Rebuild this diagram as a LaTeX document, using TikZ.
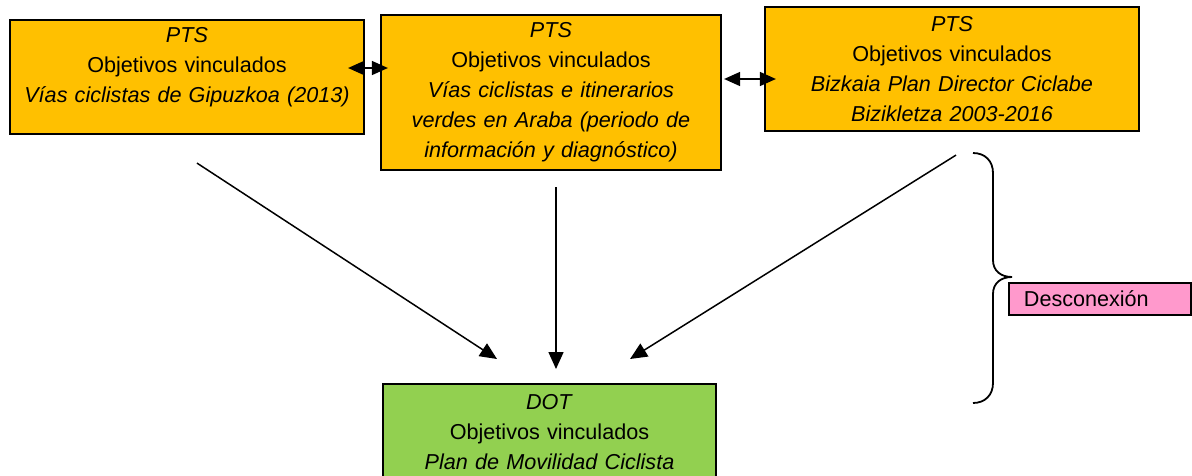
\documentclass[tikz,border=0pt]{standalone}
\usepackage{fontspec}
\setmainfont{Liberation Sans}
\usepackage{xcolor}
\usepackage{tikz}
\usetikzlibrary{arrows.meta}

\definecolor{ptsorange}{HTML}{FFC000}
\definecolor{dotgreen}{HTML}{92D050}
\definecolor{notepink}{HTML}{FF99CC}

\begin{document}
\begin{tikzpicture}[
        x=1pt, y=-1pt,
        every node/.style={font=\fontsize{21.6}{30}\selectfont},
        module/.style={rectangle, draw, line width=2.2pt, align=center, inner xsep=4pt, inner ysep=2pt},
        plan/.style={module, fill=ptsorange},
        arrow/.style={-{Triangle[length=17pt, width=15pt]}, line width=1.5pt},
        biarrow/.style={{Triangle[length=16pt, width=14pt]}-{Triangle[length=16pt, width=14pt]}, line width=1.5pt},
        brace/.style={line width=1.8pt}
    ]
    \clip (0,0) rectangle (1192,475);

    % Nodes
    \node[plan, text width=346pt, minimum height=114pt, text depth=84.6pt] (gip) at (187,77) {\textit{PTS}\\Objetivos vinculados\\\textit{Vías ciclistas de Gipuzkoa (2013)}};
    \node[plan, text width=332pt, minimum height=155pt] (ara) at (551,92.5) {\textit{PTS}\\Objetivos vinculados\\\textit{Vías ciclistas e itinerarios}\\\textit{verdes en Araba (periodo de}\\\textit{información y diagnóstico)}};
    \node[plan, text width=366pt, minimum height=124pt] (biz) at (952,69) {\textit{PTS}\\Objetivos vinculados\\\textit{Bizkaia Plan Director Ciclabe}\\\textit{Bizikletza 2003-2016}};
    \node[module, fill=dotgreen, text width=325pt, inner ysep=10pt, anchor=north] (dot) at (549.5,383) {\textit{DOT}\\Objetivos vinculados\\\textit{Plan de Movilidad Ciclista}};

    % Note
    \node[module, fill=notepink, align=left, text width=152pt, inner xsep=15pt, inner ysep=0pt, minimum height=32pt, line width=1.8pt, anchor=west] (desc) at (1008,299) {Desconexión};
    \draw[brace] (973,153) .. controls (985,153) and (993,161) .. (993,173) -- (993,260)
        .. controls (993,271) and (1001,277) .. (1012,277)
        .. controls (1001,277) and (993,283) .. (993,294) -- (993,383)
        .. controls (993,395) and (985,403) .. (973,403);

    % Arrows
    \draw[biarrow] ([shift={(-17,-9)}]gip.east) -- ([shift={(8,-24.5)}]ara.west);
    \draw[biarrow] ([shift={(2,-13.5)}]ara.east) -- ([shift={(12,10)}]biz.west);
    \draw[arrow] ([shift={(10,28)}]gip.south) -- ([shift={(-52.5,-24)}]dot.north);
    \draw[arrow] ([shift={(5,16)}]ara.south) -- ([shift={(6.5,-14)}]dot.north);
    \draw[arrow] ([shift={(4,23)}]biz.south) -- ([shift={(80.5,-24)}]dot.north);
\end{tikzpicture}
\end{document}
